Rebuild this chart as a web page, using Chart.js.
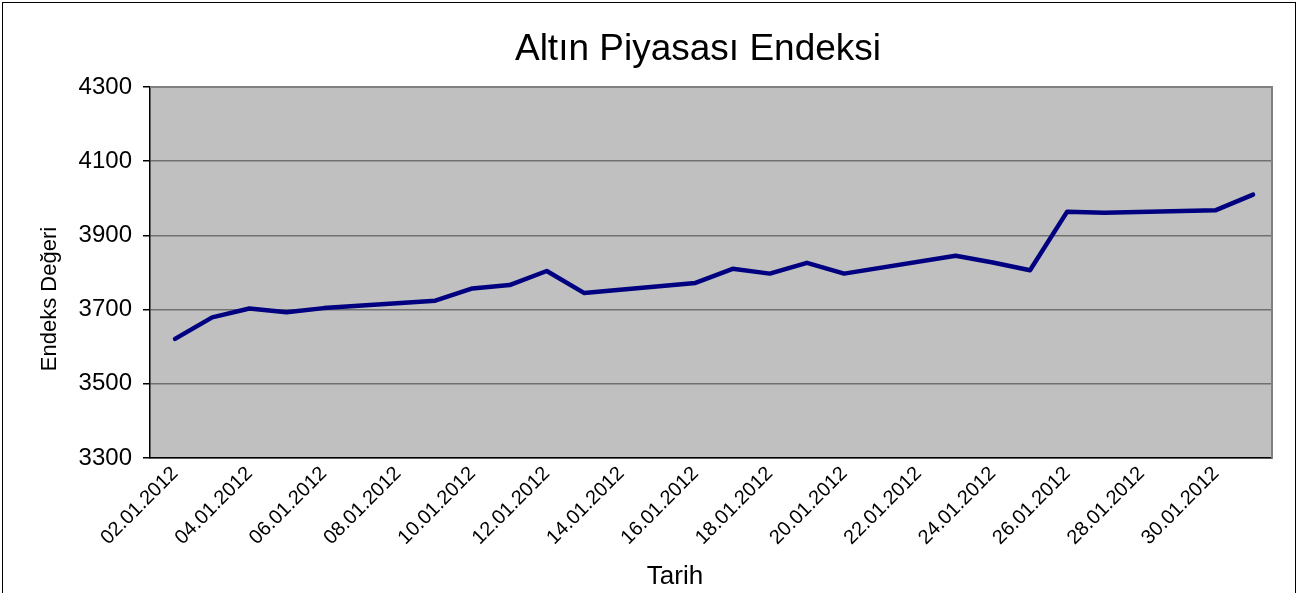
<!DOCTYPE html>
<html>
<head>
<meta charset="utf-8">
<script src="https://cdn.jsdelivr.net/npm/chart.js@4.4.0/dist/chart.umd.min.js"></script>
<style>
html,body{margin:0;padding:0;background:#fff;}
#wrap{width:1298px;height:593px;position:relative;}
</style>
</head>
<body>
<div id="wrap"><canvas id="c" width="1298" height="593"></canvas></div>
<script>
// Dates (one per calendar day), weekends have no value
const dates = ["02.01.2012","03.01.2012","04.01.2012","05.01.2012","06.01.2012","07.01.2012","08.01.2012",
  "09.01.2012","10.01.2012","11.01.2012","12.01.2012","13.01.2012","14.01.2012","15.01.2012",
  "16.01.2012","17.01.2012","18.01.2012","19.01.2012","20.01.2012","21.01.2012","22.01.2012",
  "23.01.2012","24.01.2012","25.01.2012","26.01.2012","27.01.2012","28.01.2012","29.01.2012",
  "30.01.2012","31.01.2012"];
const indexValues = [3621,3679,3703,3693,3704,null,null,
  3724,3757,3766,3804,3745,null,null,
  3772,3810,3797,3826,3797,null,null,
  3845,3827,3806,3964,3961,null,null,
  3968,4010];
const yTicks = [3300,3500,3700,3900,4100,4300];
const titleText = "Altın Piyasası Endeksi";
const xTitle = "Tarih";
const yTitle = "Endeks Değeri";

const points = indexValues.map((v,i)=>({x:i,y:v}));

const FONT = "'Liberation Sans', Arial, sans-serif";

const decor = {
  id:'decor',
  beforeDraw(chart){
    const {ctx, chartArea:a} = chart;
    ctx.save();
    ctx.fillStyle = '#C0C0C0';
    ctx.fillRect(a.left, a.top, a.right-a.left, a.bottom-a.top);
    ctx.restore();
  },
  afterDatasetsDraw(chart){
    const {ctx, chartArea:a} = chart;
    ctx.save();
    ctx.strokeStyle = '#808080';
    ctx.lineWidth = 2;
    ctx.beginPath();
    ctx.moveTo(a.left, a.top); ctx.lineTo(a.right, a.top); ctx.lineTo(a.right, a.bottom);
    ctx.stroke();
    ctx.restore();
  },
  afterDraw(chart){
    const {ctx} = chart;
    ctx.save();
    ctx.strokeStyle = '#000';
    ctx.lineWidth = 1;
    ctx.strokeRect(2.5, 2.5, 1293, 620);
    ctx.fillStyle = '#000';
    ctx.textAlign = 'center';
    ctx.textBaseline = 'middle';
    ctx.font = "37px " + FONT;
    ctx.fillText(titleText, 698, 50);
    ctx.font = "26px " + FONT;
    ctx.fillText(xTitle, 675, 577);
    ctx.translate(50, 299);
    ctx.rotate(-Math.PI/2);
    ctx.font = "22px " + FONT;
    ctx.fillText(yTitle, 0, 0);
    ctx.restore();
  }
};

new Chart(document.getElementById('c'), {
  type:'line',
  data:{
    datasets:[{
      data: points,
      borderColor:'#000080',
      borderWidth:4.5,
      pointRadius:0,
      pointHoverRadius:0,
      tension:0,
      spanGaps:true,
      borderCapStyle:'round',
      borderJoinStyle:'round'
    }]
  },
  options:{
    responsive:false,
    animation:false,
    events:[],
    layout:{padding:{left:0,right:26,top:87,bottom:0}},
    plugins:{
      legend:{display:false},
      tooltip:{enabled:false},
      title:{display:false}
    },
    scales:{
      x:{
        type:'linear',
        min:-0.673, max:29.51,
        grid:{display:false, drawTicks:false},
        border:{display:true,color:'#000',width:1.5},
        ticks:{
          stepSize:2, includeBounds:false, autoSkip:false,
          minRotation:45, maxRotation:45,
          color:'#000', padding:4,
          font:{family:FONT,size:20},
          callback:(v)=> dates[v] !== undefined ? dates[v] : ''
        },
        afterFit(s){ s.height = 135; }
      },
      y:{
        min:3300,max:4300,
        afterBuildTicks(s){ s.ticks = yTicks.map(v=>({value:v})); },
        grid:{color:'#707070',lineWidth:1.5,drawTicks:true,tickLength:7,tickColor:'#000'},
        border:{display:true,color:'#000',width:1.5},
        ticks:{color:'#000',padding:11,font:{family:FONT,size:24},callback:(v)=>String(v)},
        afterFit(s){ s.width = 150; }
      }
    }
  },
  plugins:[decor]
});
</script>
</body>
</html>
